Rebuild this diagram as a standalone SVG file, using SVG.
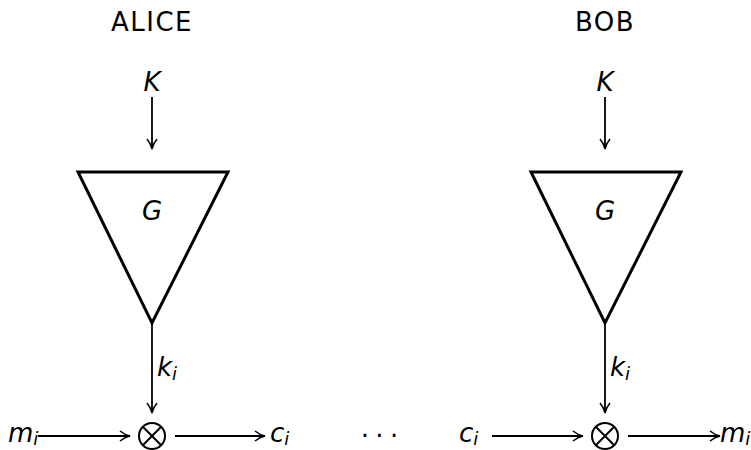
<svg xmlns="http://www.w3.org/2000/svg" width="751" height="450" viewBox="0 0 751 450">
<defs>
<marker id="ah" viewBox="0 0 12 12" refX="11" refY="6" markerWidth="12" markerHeight="12" markerUnits="userSpaceOnUse" orient="auto">
<path d="M1,1 Q6,5 11,6 Q6,7 1,11" fill="none" stroke="#000" stroke-width="1.5"/>
</marker>
</defs>
<style>
.t{font-family:"DejaVu Sans",sans-serif;font-size:26px;fill:#000}
.h{letter-spacing:1.5px}
.m{font-family:"DejaVu Sans",sans-serif;font-style:italic;font-size:26px;fill:#000}
.s{font-size:18px}
.tri{fill:#fff;stroke:#000;stroke-width:3;stroke-linejoin:miter}
.ln{stroke:#000;stroke-width:1.8;fill:none}
.x{fill:#fff;stroke:#000;stroke-width:2}
</style>
<rect width="751" height="450" fill="#fff"/>
<g id="alice">
<text class="t h" x="152" y="31" text-anchor="middle">ALICE</text>
<text class="m" x="152" y="91" text-anchor="middle">K</text>
<g id="alice-G"><polygon class="tri" points="78,172 228,172 152,323"/><text class="m" x="152" y="220" text-anchor="middle">G</text></g>
<text class="m" x="157" y="376">k<tspan class="s" dy="4">i</tspan></text>
<g id="alice-xor"><circle class="x" cx="152" cy="436" r="13"/><path class="x" d="M142.8,426.8L161.2,445.2M161.2,426.8L142.8,445.2"/></g>
<text class="m" x="8" y="442">m<tspan class="s" dy="3">i</tspan></text>
<text class="m" x="270" y="442">c<tspan class="s" dy="3">i</tspan></text>
</g>
<g id="bob">
<text class="t h" x="605" y="31" text-anchor="middle">BOB</text>
<text class="m" x="605" y="91" text-anchor="middle">K</text>
<g id="bob-G"><polygon class="tri" points="531,172 681,172 605,323"/><text class="m" x="605" y="220" text-anchor="middle">G</text></g>
<text class="m" x="610" y="376">k<tspan class="s" dy="4">i</tspan></text>
<g id="bob-xor"><circle class="x" cx="605" cy="436" r="13"/><path class="x" d="M595.8,426.8L614.2,445.2M614.2,426.8L595.8,445.2"/></g>
<text class="m" x="459" y="442">c<tspan class="s" dy="3">i</tspan></text>
<text class="m" x="720" y="442">m<tspan class="s" dy="3">i</tspan></text>
</g>
<g id="dots"><text class="t" x="379" y="445" text-anchor="middle" letter-spacing="-1">· · ·</text></g>
<g id="connectors">
<path class="ln" d="M152,97V149" marker-end="url(#ah)"/>
<path class="ln" d="M152,324V413" marker-end="url(#ah)"/>
<path class="ln" d="M38,436H130" marker-end="url(#ah)"/>
<path class="ln" d="M175,436H265" marker-end="url(#ah)"/>
<path class="ln" d="M605,97V149" marker-end="url(#ah)"/>
<path class="ln" d="M605,324V413" marker-end="url(#ah)"/>
<path class="ln" d="M492,436H583" marker-end="url(#ah)"/>
<path class="ln" d="M628,436H720" marker-end="url(#ah)"/>
</g>
</svg>
